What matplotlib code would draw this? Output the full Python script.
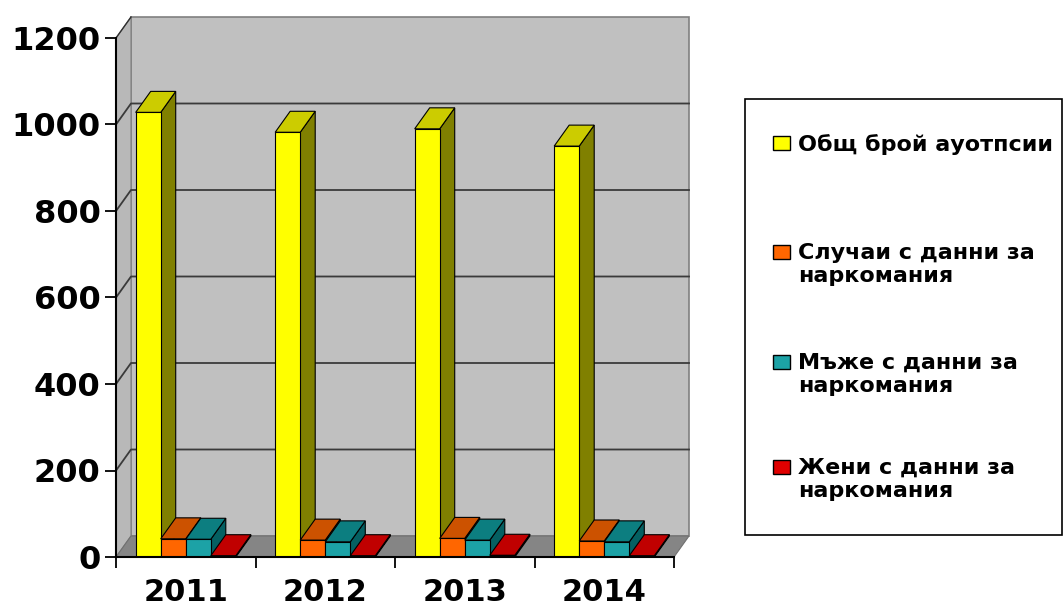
import matplotlib.pyplot as plt
from matplotlib.patches import Polygon, Rectangle

years = ["2011", "2012", "2013", "2014"]
total_autopsies = [1028, 982, 990, 950]
drug_cases = [42, 39, 43, 37]
drug_men = [41, 35, 39, 35]
drug_women = [3, 3, 4, 3]

series_labels = ["Общ брой ауотпсии",
                 "Случаи с данни за\nнаркомания",
                 "Мъже с данни за\nнаркомания",
                 "Жени с данни за\nнаркомания"]
series = [total_autopsies, drug_cases, drug_men, drug_women]

front_colors = ["#FFFF00", "#FF6600", "#1CA2A6", "#E00000"]
top_colors = ["#CCCC00", "#CC5200", "#0C7E80", "#C00000"]
side_colors = ["#808000", "#993D00", "#056062", "#8C0000"]

plt.rcParams['font.family'] = ['DejaVu Sans']
plt.rcParams['font.weight'] = 'bold'

fig = plt.figure(figsize=(10.64, 6.07), dpi=100)
W, H = 1064, 607
ax = fig.add_axes([116 / W, 50 / H, 558 / W, 519 / H])
ax.set_xlim(0, 4)
ax.set_ylim(0, 1200)
ax.patch.set_visible(False)

# depth of the fake 3d box, in pixels -> data units
dx_px, dy_px = 15, 21
dx = dx_px / (558 / 4)
dy = dy_px / (519 / 1200)


def poly(pts, fc, ec, lw, z):
    p = Polygon(pts, closed=True, facecolor=fc, edgecolor=ec, lw=lw,
                zorder=z, clip_on=False)
    ax.add_patch(p)


# walls and floor
poly([(dx, dy), (4 + dx, dy), (4 + dx, 1200 + dy), (dx, 1200 + dy)],
     "#C0C0C0", "#808080", 1.2, 0)
poly([(0, 0), (dx, dy), (dx, 1200 + dy), (0, 1200)], "#B8B8B8", "#808080", 0.8, 0.1)
poly([(0, 0), (4, 0), (4 + dx, dy), (dx, dy)], "#858585", "#707070", 0.8, 0.2)
ax.plot([0, dx], [1200, 1200 + dy], color="#303030", lw=1, clip_on=False, zorder=0.3)

# gridlines on back and side wall
for v in range(200, 1200, 200):
    ax.plot([0, dx, 4 + dx], [v, v + dy, v + dy], color="#3a3a3a", lw=1.3,
            clip_on=False, zorder=0.5)

# bars
gap = 0.141
bw = (1 - 2 * gap) / 4
z = 2
for i in range(len(years)):
    for k, vals in enumerate(series):
        v = vals[i]
        x0 = i + gap + k * bw
        x1 = x0 + bw
        poly([(x1, 0), (x1 + dx, dy), (x1 + dx, v + dy), (x1, v)],
             side_colors[k], "black", 0.8, z)
        poly([(x0, v), (x1, v), (x1 + dx, v + dy), (x0 + dx, v + dy)],
             top_colors[k], "black", 0.8, z + 0.001)
        ax.bar(x0, v, width=bw, align='edge', color=front_colors[k],
               edgecolor="black", lw=0.8, zorder=z + 0.002)
        z += 0.01

# axes
for s in ["top", "right"]:
    ax.spines[s].set_visible(False)
ax.spines["left"].set_linewidth(1.5)
ax.spines["bottom"].set_linewidth(1.5)
ax.spines["left"].set_zorder(5)
ax.spines["bottom"].set_zorder(5)

ax.set_yticks(range(0, 1201, 200))
ax.tick_params(axis='y', length=8, width=1.3, pad=3, labelsize=23)
ax.set_xticks(range(0, 5))
ax.set_xticklabels([])
ax.set_xticks([i + 0.5 for i in range(len(years))], minor=True)
ax.set_xticklabels(years, minor=True)
ax.tick_params(axis='x', which='major', length=8, width=1.3)
ax.tick_params(axis='x', which='minor', length=0, pad=15, labelsize=22)

# legend box (drawn by hand, Excel-like layout)
fig.patches.append(Rectangle((745 / W, (H - 535) / H), 317 / W, 436 / H,
                             transform=fig.transFigure, facecolor="white",
                             edgecolor="black", lw=1.2))
legend_rows = [143, 252, 362, 467]
for k, lab in enumerate(series_labels):
    yc = legend_rows[k]
    fig.patches.append(Rectangle((773 / W, (H - yc - 7) / H), 17 / W, 14 / H,
                                 transform=fig.transFigure,
                                 facecolor=front_colors[k], edgecolor="black",
                                 lw=1))
    fig.text(798 / W, (H - yc + 9) / H, lab, fontsize=16, fontweight='bold',
             va='top', ha='left', linespacing=1.2)

plt.savefig("out.png", dpi=100)
